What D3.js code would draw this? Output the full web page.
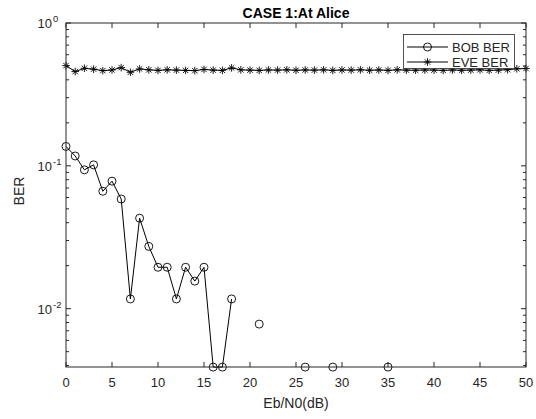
<!DOCTYPE html>
<html>
<head>
<meta charset="utf-8">
<script src="https://cdn.jsdelivr.net/npm/d3@7"></script>
<style>
  body { margin: 0; background: #fff; }
  svg { display: block; font-family: "Liberation Sans", Arial, sans-serif; }
</style>
</head>
<body>
<svg width="536" height="419"></svg>
<script>
/*  DATA   */
var snr = d3.range(0, 51);
var bobBer = [0.1367,0.1172,0.0938,0.1016,0.0664,0.0781,0.0586,0.0117,0.0430,0.0273,
              0.0195,0.0195,0.0117,0.0195,0.0156,0.0195,0.0039,0.0039,0.0117,0,
              0,0.0078,0,0,0,0,0.0039,0,0,0.0039,
              0,0,0,0,0,0.0039,0,0,0,0,
              0,0,0,0,0,0,0,0,0,0,0];
var eveBer = [0.503,0.457,0.482,0.475,0.464,0.469,0.487,0.452,0.477,0.470,
              0.466,0.470,0.468,0.466,0.464,0.473,0.468,0.466,0.485,0.470,
              0.468,0.466,0.469,0.468,0.470,0.467,0.469,0.468,0.470,0.466,
              0.469,0.468,0.470,0.467,0.469,0.466,0.470,0.468,0.467,0.469,
              0.468,0.466,0.469,0.467,0.468,0.470,0.466,0.468,0.471,0.478,0.480];
var xTicks = [0,5,10,15,20,25,30,35,40,45,50];
var yDecades = [-2,-1,0];
var legendNames = ["BOB BER","EVE BER"];

/*  LAYOUT   */
var svg = d3.select("svg");
var pLeft = 66, pRight = 526, pTop = 23, pBottom = 367;
var axisColor = "#262626";

var x = d3.scaleLinear().domain([0, 50]).range([pLeft, pRight]);
var y = d3.scaleLog().domain([0.00390625, 1]).range([pBottom, pTop]);

var minorTicks = [];
yDecades.forEach(function(k) {
  for (var m = 2; m <= 9; m++) {
    var v = m * Math.pow(10, k - 1);
    if (v >= y.domain()[0] && v < 1) minorTicks.push(v);
  }
});

/*  AXES   */
var axes = svg.append("g").attr("stroke", axisColor).attr("stroke-width", 1);

axes.append("g").selectAll("line").data(xTicks).enter().append("line")
  .attr("x1", function(d) { return x(d); }).attr("x2", function(d) { return x(d); })
  .attr("y1", pBottom).attr("y2", pBottom - 5);
axes.append("g").selectAll("line").data(xTicks).enter().append("line")
  .attr("x1", function(d) { return x(d); }).attr("x2", function(d) { return x(d); })
  .attr("y1", pTop).attr("y2", pTop + 5);

var yMajor = yDecades.map(function(k) { return Math.pow(10, k); });
[[pLeft, 1], [pRight, -1]].forEach(function(side) {
  axes.append("g").selectAll("line").data(yMajor).enter().append("line")
    .attr("x1", side[0]).attr("x2", side[0] + side[1] * 5)
    .attr("y1", function(d) { return y(d); }).attr("y2", function(d) { return y(d); });
  axes.append("g").selectAll("line").data(minorTicks).enter().append("line")
    .attr("x1", side[0]).attr("x2", side[0] + side[1] * 3)
    .attr("y1", function(d) { return y(d); }).attr("y2", function(d) { return y(d); });
});

svg.append("g").selectAll("text").data(xTicks).enter().append("text")
  .attr("x", function(d) { return x(d); }).attr("y", 387)
  .attr("text-anchor", "middle").attr("font-size", 13).attr("fill", axisColor)
  .text(function(d) { return d; });

svg.append("g").selectAll("text").data(yDecades).enter().append("text")
  .attr("x", 52).attr("y", function(d) { return y(Math.pow(10, d)) + 5; })
  .attr("text-anchor", "end").attr("font-size", 13).attr("fill", axisColor)
  .text("10");
svg.append("g").selectAll("text").data(yDecades).enter().append("text")
  .attr("x", 53).attr("y", function(d) { return y(Math.pow(10, d)) - 1; })
  .attr("font-size", 9.5).attr("fill", axisColor)
  .text(function(d) { return d === 0 ? "0" : "-" + (-d); });

svg.append("text").attr("x", (pLeft + pRight) / 2).attr("y", 408)
  .attr("text-anchor", "middle").attr("font-size", 14).attr("fill", axisColor)
  .text("Eb/N0(dB)");
svg.append("text").attr("transform", "translate(24,191) rotate(-90)")
  .attr("text-anchor", "middle").attr("font-size", 14).attr("fill", axisColor)
  .text("BER");
svg.append("text").attr("x", (pLeft + pRight) / 2).attr("y", 18)
  .attr("text-anchor", "middle").attr("font-size", 14).attr("font-weight", "bold")
  .attr("fill", "#000").text("CASE 1:At Alice");

/*  SERIES   */
var plot = svg.append("g");
var line = d3.line()
  .defined(function(d) { return d[1] > 0; })
  .x(function(d) { return x(d[0]); })
  .y(function(d) { return y(d[1]); });

var bobPts = snr.map(function(s, i) { return [s, bobBer[i]]; });
var evePts = snr.map(function(s, i) { return [s, eveBer[i]]; });

plot.append("path").datum(bobPts).attr("d", line)
  .attr("fill", "none").attr("stroke", "#000").attr("stroke-width", 1);
plot.append("path").datum(evePts).attr("d", line)
  .attr("fill", "none").attr("stroke", "#000").attr("stroke-width", 1);

function drawCircle(g, cx, cy) {
  g.append("circle").attr("cx", cx).attr("cy", cy).attr("r", 4)
    .attr("fill", "none").attr("stroke", "#000").attr("stroke-width", 0.9);
}
function drawStar(g, cx, cy) {
  var s = 3.8, t = 2.7;
  g.append("path")
    .attr("d", "M" + (cx - s) + "," + cy + "H" + (cx + s) +
               "M" + cx + "," + (cy - s) + "V" + (cy + s) +
               "M" + (cx - t) + "," + (cy - t) + "L" + (cx + t) + "," + (cy + t) +
               "M" + (cx - t) + "," + (cy + t) + "L" + (cx + t) + "," + (cy - t))
    .attr("stroke", "#000").attr("stroke-width", 0.9).attr("fill", "none");
}

bobPts.filter(function(d) { return d[1] > 0; }).forEach(function(d) {
  drawCircle(plot, x(d[0]), y(d[1]));
});
evePts.forEach(function(d) { drawStar(plot, x(d[0]), y(d[1])); });

/*  BOX   */
svg.append("rect").attr("x", pLeft).attr("y", pTop)
  .attr("width", pRight - pLeft).attr("height", pBottom - pTop)
  .attr("fill", "none").attr("stroke", axisColor).attr("stroke-width", 1);

/*  LEGEND   */
var legend = svg.append("g");
legend.append("rect").attr("x", 403.5).attr("y", 34.5).attr("width", 111).attr("height", 34)
  .attr("fill", "#fff").attr("stroke", axisColor).attr("stroke-width", 0.8);
legendNames.forEach(function(name, i) {
  var ly = 47 + i * 15;
  legend.append("line").attr("x1", 407).attr("x2", 448).attr("y1", ly).attr("y2", ly)
    .attr("stroke", "#000").attr("stroke-width", 1);
  if (i === 0) drawCircle(legend, 427.5, ly); else drawStar(legend, 427.5, ly);
  legend.append("text").attr("x", 452).attr("y", ly + 4.5)
    .attr("font-size", 13).attr("fill", axisColor).text(name);
});
</script>
</body>
</html>
